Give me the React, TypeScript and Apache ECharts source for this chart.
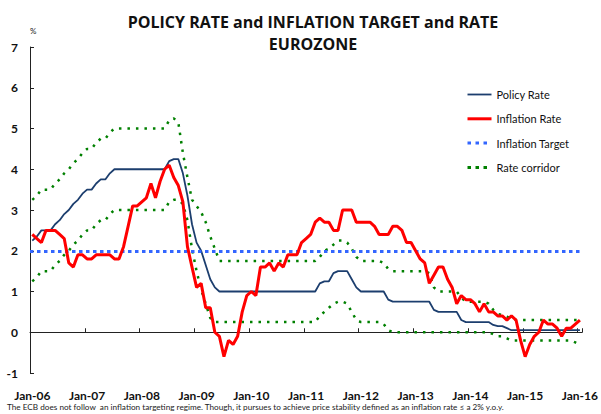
import React, { useEffect, useRef } from "react";
import * as echarts from "echarts";

const MONTHS = ["Jan", "Feb", "Mar", "Apr", "May", "Jun", "Jul", "Aug", "Sep", "Oct", "Nov", "Dec"];
const YEARS = ["06", "07", "08", "09", "10", "11", "12", "13", "14", "15", "16"];
const LAST_YEAR_MONTHS = 1; // data ends Jan-16

const categories: string[] = [];
YEARS.forEach((y, i) => {
  const n = i === YEARS.length - 1 ? LAST_YEAR_MONTHS : 12;
  for (let k = 0; k < n; k++) categories.push(`${MONTHS[k]}-${y}`);
});

const Y_TICKS = { min: -1, max: 7, interval: 1 };
const INFLATION_TARGET = 2;

// monthly, Jan-06 .. Jan-16
const policyRate = [
  2.25, 2.35, 2.5, 2.5, 2.5, 2.65, 2.75, 2.9, 3.0, 3.15, 3.25, 3.4,
  3.5, 3.5, 3.65, 3.75, 3.75, 3.9, 4.0, 4.0, 4.0, 4.0, 4.0, 4.0,
  4.0, 4.0, 4.0, 4.0, 4.0, 4.0, 4.2, 4.25, 4.25, 3.9, 3.35, 2.65,
  2.2, 2.0, 1.65, 1.3, 1.1, 1.0, 1.0, 1.0, 1.0, 1.0, 1.0, 1.0,
  1.0, 1.0, 1.0, 1.0, 1.0, 1.0, 1.0, 1.0, 1.0, 1.0, 1.0, 1.0,
  1.0, 1.0, 1.0, 1.2, 1.25, 1.25, 1.45, 1.5, 1.5, 1.5, 1.3, 1.1,
  1.0, 1.0, 1.0, 1.0, 1.0, 1.0, 0.8, 0.75, 0.75, 0.75, 0.75, 0.75,
  0.75, 0.75, 0.75, 0.75, 0.55, 0.5, 0.5, 0.5, 0.5, 0.5, 0.3, 0.25,
  0.25, 0.25, 0.25, 0.25, 0.25, 0.18, 0.15, 0.15, 0.1, 0.05, 0.05, 0.05,
  0.05, 0.05, 0.05, 0.05, 0.05, 0.05, 0.05, 0.05, 0.05, 0.05, 0.05, 0.05,
  0.05,
];

const inflationRate = [
  2.4, 2.3, 2.2, 2.5, 2.5, 2.5, 2.4, 2.3, 1.7, 1.6, 1.9, 1.9,
  1.8, 1.8, 1.9, 1.9, 1.9, 1.9, 1.8, 1.8, 2.1, 2.6, 3.1, 3.1,
  3.2, 3.3, 3.65, 3.3, 3.7, 4.0, 4.1, 3.8, 3.6, 3.2, 2.1, 1.6,
  1.1, 1.2, 0.6, 0.6, 0.0, -0.1, -0.6, -0.2, -0.3, -0.1, 0.5, 0.9,
  1.0, 0.9, 1.6, 1.6, 1.7, 1.5, 1.7, 1.6, 1.9, 1.9, 1.9, 2.2,
  2.3, 2.4, 2.7, 2.8, 2.7, 2.7, 2.5, 2.5, 3.0, 3.0, 3.0, 2.7,
  2.7, 2.7, 2.7, 2.6, 2.4, 2.4, 2.4, 2.6, 2.6, 2.5, 2.2, 2.2,
  2.0, 1.8, 1.7, 1.2, 1.4, 1.6, 1.6, 1.3, 1.1, 0.7, 0.9, 0.8,
  0.8, 0.7, 0.5, 0.7, 0.5, 0.5, 0.4, 0.4, 0.3, 0.4, 0.3, -0.2,
  -0.6, -0.3, -0.1, 0.0, 0.3, 0.2, 0.2, 0.1, -0.1, 0.1, 0.1, 0.2,
  0.3,
];

const corridorUpper = [
  3.25, 3.35, 3.5, 3.5, 3.5, 3.65, 3.75, 3.9, 4.0, 4.15, 4.25, 4.4,
  4.5, 4.5, 4.65, 4.75, 4.75, 4.9, 5.0, 5.0, 5.0, 5.0, 5.0, 5.0,
  5.0, 5.0, 5.0, 5.0, 5.0, 5.0, 5.2, 5.25, 5.15, 4.4, 3.8, 3.25,
  3.1, 2.95, 2.7, 2.35, 2.05, 1.75, 1.75, 1.75, 1.75, 1.75, 1.75, 1.75,
  1.75, 1.75, 1.75, 1.75, 1.75, 1.75, 1.75, 1.75, 1.75, 1.75, 1.75, 1.75,
  1.75, 1.75, 1.75, 1.85, 2.0, 2.05, 2.15, 2.25, 2.25, 2.2, 2.05, 1.85,
  1.75, 1.75, 1.75, 1.75, 1.75, 1.7, 1.55, 1.5, 1.5, 1.5, 1.5, 1.5,
  1.5, 1.5, 1.5, 1.45, 1.1, 1.0, 1.0, 1.0, 1.0, 1.0, 0.85, 0.75,
  0.75, 0.75, 0.75, 0.75, 0.7, 0.55, 0.45, 0.42, 0.38, 0.33, 0.3, 0.3,
  0.3, 0.3, 0.3, 0.3, 0.3, 0.3, 0.3, 0.3, 0.3, 0.3, 0.3, 0.3,
  0.3,
];

const corridorLower = [
  1.25, 1.35, 1.5, 1.5, 1.5, 1.65, 1.75, 1.9, 2.0, 2.15, 2.25, 2.4,
  2.5, 2.5, 2.65, 2.75, 2.75, 2.9, 3.0, 3.0, 3.0, 3.0, 3.0, 3.0,
  3.0, 3.0, 3.0, 3.0, 3.0, 3.0, 3.2, 3.25, 3.25, 3.15, 2.75, 2.05,
  1.5, 1.05, 0.7, 0.35, 0.25, 0.25, 0.25, 0.25, 0.25, 0.25, 0.25, 0.25,
  0.25, 0.25, 0.25, 0.25, 0.25, 0.25, 0.25, 0.25, 0.25, 0.25, 0.25, 0.25,
  0.25, 0.25, 0.25, 0.4, 0.5, 0.6, 0.7, 0.75, 0.75, 0.7, 0.5, 0.3,
  0.25, 0.25, 0.25, 0.25, 0.25, 0.2, 0.05, 0.0, 0.0, 0.0, 0.0, 0.0,
  0.0, 0.0, 0.0, 0.0, 0.0, 0.0, 0.0, 0.0, 0.0, 0.0, 0.0, 0.0,
  0.0, 0.0, 0.0, 0.0, 0.0, -0.05, -0.1, -0.1, -0.15, -0.2, -0.2, -0.2,
  -0.2, -0.2, -0.2, -0.2, -0.2, -0.2, -0.2, -0.2, -0.2, -0.2, -0.2, -0.25,
  -0.3,
];

const TITLE = "POLICY RATE and INFLATION TARGET and RATE\nEUROZONE";
const FOOTNOTE =
  "The ECB does not follow  an inflation targeting regime. Though, it pursues to achieve price stability defined as an inflation rate \u2264 a 2% y.o.y.";

const FONT = "Lato, 'Open Sans', sans-serif";
const TITLE_FONT = "'Open Sans', Lato, sans-serif";
const NAVY = "#1c3e6e";
const RED = "#ff0000";
const BLUE = "#3366ff";
const GREEN = "#008000";

export default function App() {
  const ref = useRef<HTMLDivElement>(null);

  useEffect(() => {
    if (!ref.current) return;
    const chart = echarts.init(ref.current, undefined, { renderer: "svg" });
    const greenStyle = { color: GREEN, width: 2.5, type: [2.5, 6] as any, cap: "butt" as any };
    const hiddenSymbol = { opacity: 0 };
    chart.setOption({
      animation: false,
      backgroundColor: "#ffffff",
      textStyle: { fontFamily: FONT },
      title: {
        text: TITLE,
        left: 308,
        top: 6,
        textAlign: "center",
        textStyle: { fontFamily: TITLE_FONT, fontWeight: "bold", fontSize: 16, lineHeight: 22, color: "#111" },
      },
      grid: { left: 30, right: 16, top: 47, bottom: 41, containLabel: false },
      legend: {
        orient: "vertical",
        left: 461,
        top: 84,
        itemWidth: 24,
        itemHeight: 12,
        itemGap: 13.3,
        textStyle: { fontFamily: FONT, fontSize: 11, color: "#111" },
        data: [
          { name: "Policy Rate", itemStyle: hiddenSymbol, lineStyle: { color: NAVY, width: 1.8, type: "solid" } },
          { name: "Inflation Rate", itemStyle: hiddenSymbol, lineStyle: { color: RED, width: 3, type: "solid" } },
          { name: "Inflation Target", itemStyle: hiddenSymbol, lineStyle: { color: BLUE, width: 3, type: [3.5, 4.5] } },
          { name: "Rate corridor", itemStyle: hiddenSymbol, lineStyle: { color: GREEN, width: 3, type: [3.5, 4.5] } },
        ],
      },
      xAxis: [
        {
          type: "category",
          data: categories,
          boundaryGap: true,
          position: "bottom",
          axisLine: { show: true, onZero: true, lineStyle: { color: "#222", width: 1 } },
          axisTick: { show: true, inside: true, length: 4, interval: 11, lineStyle: { color: "#222" } },
          axisLabel: { show: false },
          splitLine: { show: false },
        },
        {
          type: "category",
          data: categories,
          boundaryGap: true,
          position: "bottom",
          axisLine: { show: false, onZero: false },
          axisTick: { show: false },
          axisLabel: {
            show: true,
            interval: 11,
            margin: 16,
            fontFamily: FONT,
            fontWeight: "bold",
            fontSize: 12,
            color: "#111",
          },
          splitLine: { show: false },
        },
      ],
      yAxis: {
        type: "value",
        min: Y_TICKS.min,
        max: Y_TICKS.max,
        interval: Y_TICKS.interval,
        axisLine: { show: true, lineStyle: { color: "#222", width: 1 } },
        axisTick: { show: true, inside: true, length: 4, lineStyle: { color: "#222" } },
        axisLabel: { margin: 12, fontFamily: FONT, fontWeight: "bold", fontSize: 12, color: "#111" },
        splitLine: { show: false },
      },
      graphic: [
        {
          type: "text",
          left: 30,
          top: 27,
          style: { text: "%", fontFamily: FONT, fontSize: 8, fill: "#222" },
        },
        {
          type: "text",
          left: 7,
          top: 403,
          style: { text: FOOTNOTE, fontFamily: FONT, fontSize: 8.2, fill: "#222" },
        },
      ],
      series: [
        {
          name: "Rate corridor",
          type: "line",
          data: corridorUpper,
          symbol: "none",
          itemStyle: { color: GREEN },
          lineStyle: greenStyle,
          z: 2,
        },
        {
          name: "Rate corridor",
          type: "line",
          data: corridorLower,
          symbol: "none",
          itemStyle: { color: GREEN },
          lineStyle: greenStyle,
          z: 2,
        },
        {
          name: "Inflation Target",
          type: "line",
          data: [],
          symbol: "none",
          itemStyle: { color: BLUE },
          lineStyle: { color: BLUE, width: 3, type: [3.5, 3.5] as any },
          markLine: {
            silent: true,
            symbol: "none",
            label: { show: false },
            lineStyle: { color: BLUE, width: 3, type: [3.5, 3.5] as any },
            data: [{ yAxis: INFLATION_TARGET }],
          },
          z: 3,
        },
        {
          name: "Policy Rate",
          type: "line",
          data: policyRate,
          symbol: "none",
          itemStyle: { color: NAVY },
          lineStyle: { color: NAVY, width: 1.8 },
          z: 4,
        },
        {
          name: "Inflation Rate",
          type: "line",
          data: inflationRate,
          symbol: "none",
          itemStyle: { color: RED },
          lineStyle: { color: RED, width: 3 },
          z: 5,
        },
      ],
    });
    return () => chart.dispose();
  }, []);

  return (
    <div
      ref={ref}
      style={{ position: "absolute", left: 0, top: 0, width: 601, height: 414, background: "#fff" }}
    />
  );
}
